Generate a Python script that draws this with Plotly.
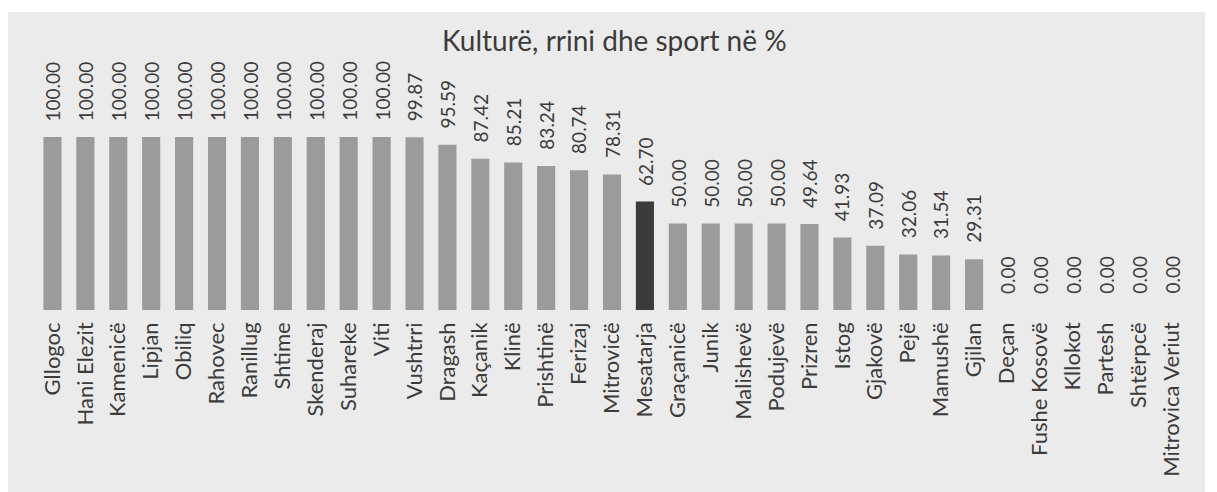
import plotly.graph_objects as go

categories = ["Gllogoc", "Hani Elezit", "Kamenicë", "Lipjan", "Obiliq", "Rahovec", "Ranillug",
              "Shtime", "Skenderaj", "Suhareke", "Viti", "Vushtrri", "Dragash", "Kaçanik", "Klinë",
              "Prishtinë", "Ferizaj", "Mitrovicë", "Mesatarja", "Graçanicë", "Junik", "Malishevë",
              "Podujevë", "Prizren", "Istog", "Gjakovë", "Pejë", "Mamushë", "Gjilan", "Deçan",
              "Fushe Kosovë", "Kllokot", "Partesh", "Shtërpcë", "Mitrovica Veriut"]
values = [100.00, 100.00, 100.00, 100.00, 100.00, 100.00, 100.00, 100.00, 100.00, 100.00, 100.00,
          99.87, 95.59, 87.42, 85.21, 83.24, 80.74, 78.31, 62.70, 50.00, 50.00, 50.00, 50.00,
          49.64, 41.93, 37.09, 32.06, 31.54, 29.31, 0.00, 0.00, 0.00, 0.00, 0.00, 0.00]
highlight = "Mesatarja"
title_text = "Kulturë, rrini dhe sport në %"

FONT = "Lato"
TXT = "#3c3c3c"
colors = ["#3b3b3b" if c == highlight else "#9b9b9b" for c in categories]

# figure is placed at an 8px body offset in the page
W, H = 1209, 484
L, R, T, B = 28, 29, 129, 182
PW, PH = W - L - R, H - T - B

fig = go.Figure()
fig.add_trace(go.Bar(
    x=categories, y=values, marker=dict(color=colors, line=dict(width=0)),
    width=0.55, hoverinfo="x+y",
))

annotations = []
for c, v in zip(categories, values):
    annotations.append(dict(
        x=c, y=v, xref="x", yref="y", text=f"{v:.2f}", textangle=-90,
        showarrow=False, yanchor="bottom", xanchor="center", yshift=14,
        font=dict(family=FONT, size=19, color=TXT),
    ))
annotations.append(dict(
    x=(606 - L) / PW, y=(H - B - 32) / PH, xref="paper", yref="paper", text=title_text,
    showarrow=False, xanchor="center", yanchor="middle",
    font=dict(family=FONT, size=28, color=TXT),
))

fig.update_layout(
    width=W, height=H,
    margin=dict(l=L, r=R, t=T, b=B, autoexpand=False),
    paper_bgcolor="white", plot_bgcolor="rgba(0,0,0,0)",
    showlegend=False,
    annotations=annotations,
    shapes=[dict(type="rect", xref="paper", yref="paper",
                 x0=(0 - L) / PW, x1=(1197 - L) / PW,
                 y0=(H - B - H) / PH, y1=(H - B - 4) / PH,
                 fillcolor="#ebebeb", line=dict(width=0), layer="below")],
    xaxis=dict(tickangle=-90, showline=False, showgrid=False, ticks="", zeroline=False,
               tickfont=dict(family=FONT, size=22, color=TXT), ticklabelstandoff=7,
               range=[-0.5, len(categories) - 0.5]),
    yaxis=dict(range=[0, 100], visible=False, showgrid=False, zeroline=False),
)
fig.write_html("out.html")
